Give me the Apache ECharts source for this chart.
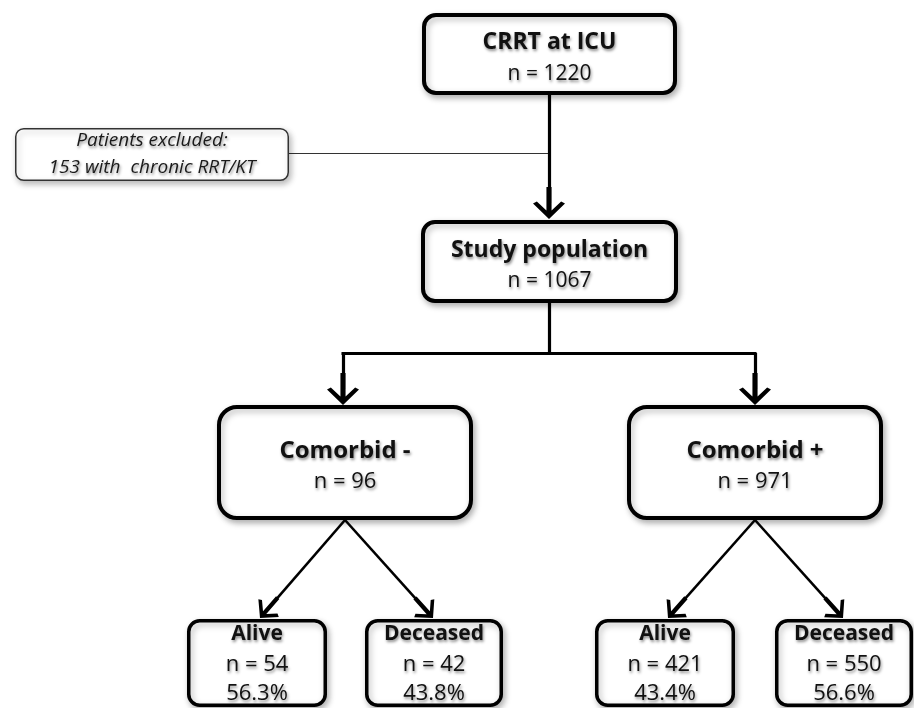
<!DOCTYPE html>
<html>
<head>
<meta charset="utf-8">
<script src="https://cdn.jsdelivr.net/npm/echarts@6/dist/echarts.min.js"></script>
<style>
    html, body { margin: 0; padding: 0; background: #fff; }
    #main { width: 914px; height: 708px; }
</style>
</head>
<body>
<div id="main"></div>
<script>
    // flow chart content
    var nodeTitles = ['CRRT at ICU', 'Study population', 'Comorbid -', 'Comorbid +', 'Alive', 'Deceased', 'Alive', 'Deceased'];
    var nodeCounts = [1220, 1067, 96, 971, 54, 42, 421, 550];
    var nodePercents = ['', '', '', '', '56.3%', '43.8%', '43.4%', '56.6%'];
    var excludedLines = ['Patients excluded:', '153 with  chronic RRT/KT'];

    // layout (page pixels) - outer edges of each box and text line centres
    var boxLayout = [
        {x0: 422, y0: 13,  x1: 677, y1: 95,  r: 12, lw: 4,   size: 'main',  textY: [42, 74]},
        {x0: 421, y0: 220, x1: 678, y1: 303, r: 12, lw: 4,   size: 'main',  textY: [250, 281]},
        {x0: 217, y0: 405, x1: 473, y1: 520, r: 18, lw: 4,   size: 'big',   textY: [451, 482]},
        {x0: 627, y0: 405, x1: 883, y1: 520, r: 18, lw: 4,   size: 'big',   textY: [451, 482]},
        {x0: 187, y0: 619, x1: 327, y1: 707, r: 11, lw: 3.5, size: 'small', textY: [634, 665, 694]},
        {x0: 365, y0: 619, x1: 503, y1: 707, r: 11, lw: 3.5, size: 'small', textY: [634, 665, 694]},
        {x0: 595, y0: 619, x1: 735, y1: 707, r: 11, lw: 3.5, size: 'small', textY: [634, 665, 694]},
        {x0: 775, y0: 619, x1: 913, y1: 707, r: 11, lw: 3.5, size: 'small', textY: [634, 665, 694]}
    ];
    var excludedLayout = {x0: 15, y0: 128, x1: 289, y1: 181, r: 8, lw: 1.5, textY: [141, 168]};

    // [fontSize, fontWeight] for each text line
    var fonts = {
        main:  [[23, 'bold'], [21, 'normal']],
        big:   [[24, 'bold'], [22, 'normal']],
        small: [[21, 'bold'], [22, 'normal'], [22, 'normal']]
    };
    var fontFamily = '"Open Sans", sans-serif';

    var arrowLinks = [
        [[549, 95], [549, 219]],
        [[343, 353], [343, 405]],
        [[755, 353], [755, 405]]
    ];
    var plainLinks = [
        [[549, 303], [549, 353]],
        [[341.5, 353], [756.5, 353]]
    ];
    var diagLinks = [
        [[345, 520], [260, 618]],
        [[345, 520], [433, 618]],
        [[755, 520], [668, 618]],
        [[755, 520], [843, 618]]
    ];
    var excludedLink = [[[289, 153], [549, 153]]];

    // open chevron head with a short shaft, tip at the top
    var chevron = 'path://M10 0 L20 15.5 L17.6 17.6 L11.6 8.4 L11.6 32 L8.4 32 L8.4 8.4 L2.4 17.6 L0 15.5 Z';
    var headSize = [20, 32];
    var diagHeadSize = [17, 27];

    var textShadow = {
        textShadowColor: 'rgba(0,0,0,0.45)',
        textShadowBlur: 3,
        textShadowOffsetX: 1,
        textShadowOffsetY: 2
    };

    function pullBack(link, d) {
        var a = link[0], b = link[1];
        var dx = b[0] - a[0], dy = b[1] - a[1];
        var len = Math.sqrt(dx * dx + dy * dy);
        return [a, [b[0] - dx / len * d, b[1] - dy / len * d]];
    }

    function textEl(api, x, y, text, size, weight, fstyle, color) {
        var c = api.coord([x, y]);
        return {
            type: 'text',
            style: echarts.util.extend({
                text: text,
                x: c[0],
                y: c[1],
                fontSize: size,
                fontWeight: weight,
                fontStyle: fstyle,
                fontFamily: fontFamily,
                fill: color,
                align: 'center',
                verticalAlign: 'middle'
            }, textShadow)
        };
    }

    function boxRect(api, b, stroke) {
        var p0 = api.coord([b.x0, b.y0]);
        var p1 = api.coord([b.x1, b.y1]);
        var h = b.lw / 2;
        return {
            type: 'rect',
            shape: {x: p0[0] + h, y: p0[1] + h, width: p1[0] - p0[0] - b.lw, height: p1[1] - p0[1] - b.lw, r: b.r},
            style: {
                fill: '#fff',
                stroke: stroke,
                lineWidth: b.lw,
                shadowBlur: 6,
                shadowColor: 'rgba(0,0,0,0.28)',
                shadowOffsetX: 2,
                shadowOffsetY: 3
            }
        };
    }

    function renderNode(params, api) {
        var i = api.value(0);
        var b = boxLayout[i];
        var f = fonts[b.size];
        var cx = (b.x0 + b.x1) / 2;
        var texts = [nodeTitles[i], 'n = ' + nodeCounts[i]];
        if (nodePercents[i]) texts.push(nodePercents[i]);
        var children = [boxRect(api, b, '#000')];
        texts.forEach(function (t, k) {
            children.push(textEl(api, cx, b.textY[k], t, f[k][0], f[k][1], 'normal', '#111'));
        });
        return {type: 'group', children: children};
    }

    function renderExcluded(params, api) {
        var b = excludedLayout;
        var cx = (b.x0 + b.x1) / 2;
        var children = [boxRect(api, b, '#333')];
        excludedLines.forEach(function (t, k) {
            children.push(textEl(api, cx, b.textY[k], t, 19, 'normal', 'italic', '#1a1a1a'));
        });
        return {type: 'group', children: children};
    }

    var chart = echarts.init(document.getElementById('main'), null, {renderer: 'canvas'});
    chart.setOption({
        animation: false,
        backgroundColor: '#fff',
        grid: {left: 0, right: 0, top: 0, bottom: 0},
        xAxis: {type: 'value', min: 0, max: 914, show: false},
        yAxis: {type: 'value', min: 0, max: 708, inverse: true, show: false},
        series: [
            {
                type: 'lines',
                coordinateSystem: 'cartesian2d',
                silent: true,
                symbol: 'none',
                lineStyle: {color: '#333', width: 1.2, opacity: 1},
                data: excludedLink.map(function (l) { return {coords: l}; })
            },
            {
                type: 'lines',
                coordinateSystem: 'cartesian2d',
                silent: true,
                symbol: 'none',
                lineStyle: {color: '#000', width: 3.2, opacity: 1},
                data: plainLinks.map(function (l) { return {coords: l}; })
            },
            {
                type: 'lines',
                coordinateSystem: 'cartesian2d',
                silent: true,
                symbol: ['none', chevron],
                symbolSize: headSize,
                lineStyle: {color: '#000', width: 3.2, opacity: 1},
                data: arrowLinks.map(function (l) { return {coords: pullBack(l, headSize[1] / 2)}; })
            },
            {
                type: 'lines',
                coordinateSystem: 'cartesian2d',
                silent: true,
                symbol: ['none', chevron],
                symbolSize: diagHeadSize,
                lineStyle: {color: '#000', width: 2.6, opacity: 1},
                data: diagLinks.map(function (l) { return {coords: pullBack(l, diagHeadSize[1] / 2)}; })
            },
            {
                type: 'custom',
                coordinateSystem: 'cartesian2d',
                silent: true,
                clip: false,
                renderItem: renderExcluded,
                data: [[0]]
            },
            {
                type: 'custom',
                coordinateSystem: 'cartesian2d',
                silent: true,
                clip: false,
                renderItem: renderNode,
                data: nodeTitles.map(function (t, i) { return [i]; })
            }
        ]
    });
</script>
</body>
</html>
